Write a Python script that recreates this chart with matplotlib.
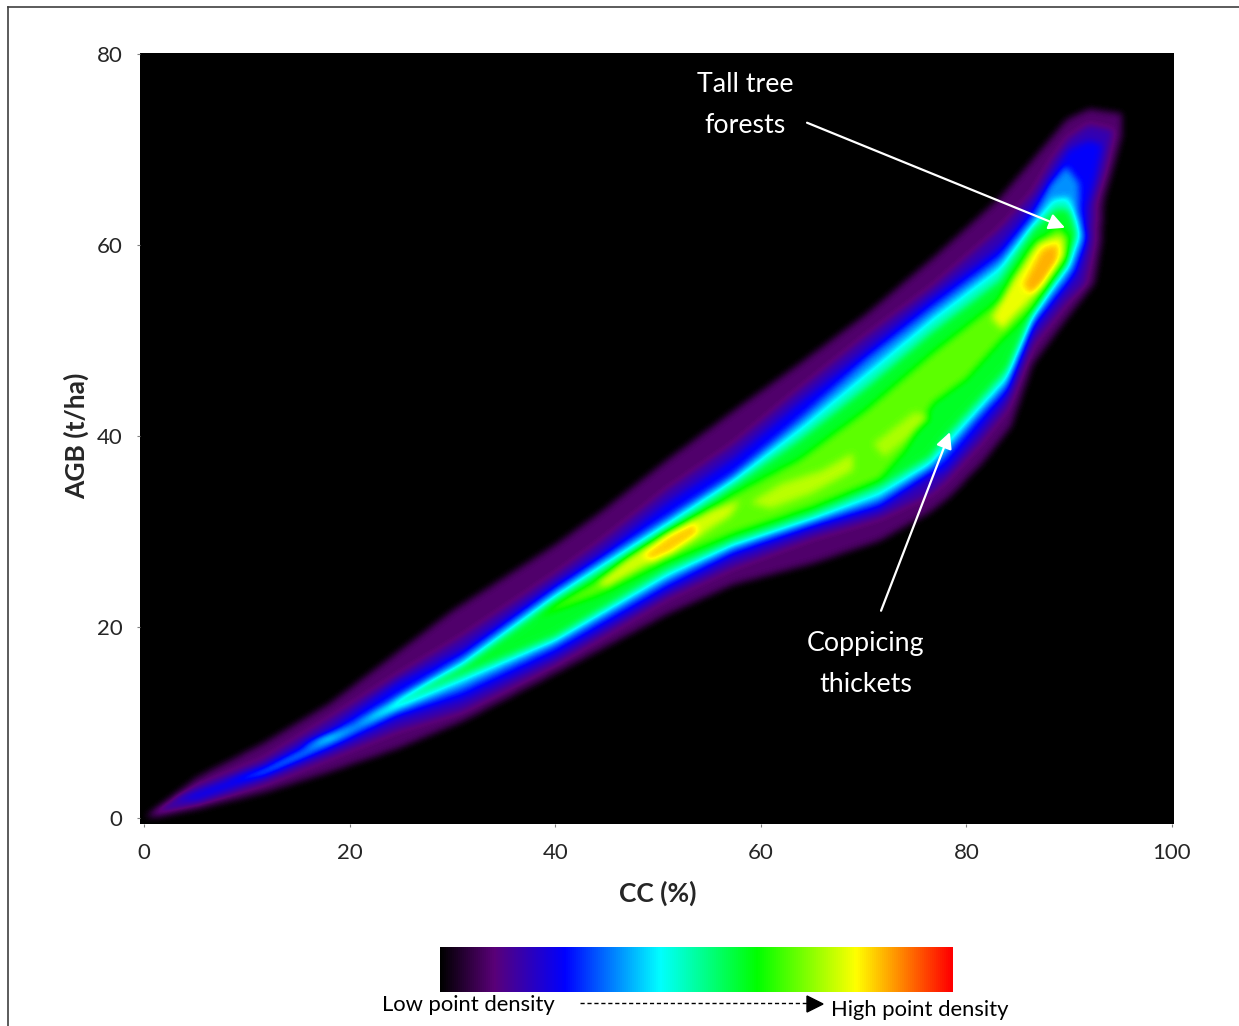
import matplotlib
matplotlib.use("Agg")
import numpy as np
import matplotlib.pyplot as plt
from matplotlib.colors import LinearSegmentedColormap
from matplotlib.lines import Line2D
from matplotlib.path import Path

plt.rcParams["font.family"] = ["Lato", "DejaVu Sans"]

W, H = 1239, 1026

#Axis ticks
x_ticks = [0, 20, 40, 60, 80, 100]
y_ticks = [0, 20, 40, 60, 80]

#Colour scale of the density
scale_pos = [0, 0.105, 0.243, 0.43, 0.62, 0.814, 1]
scale_col = ["#000000", "#5a0078", "#0000ff", "#00ffff", "#00ff00", "#ffff00", "#ff0000"]

#Outlines of the point cloud, (CC, AGB), outer to inner
sparse = [(0, 0), (5.1, 4.2), (11.6, 7.8), (18.1, 12), (24.6, 17.3), (30, 21.7), (40, 28.6), (44.4, 32),
          (50.9, 37.5), (57.3, 42.6), (63.8, 47.6), (70.3, 52.8), (76.8, 58.7), (83.3, 65), (86.5, 69),
          (89.8, 73.2), (92, 74.3), (95.2, 73.8), (95.2, 71.5), (94.3, 68), (93.4, 64.7), (93.2, 60.3),
          (92.5, 56), (89.8, 52.3), (86.5, 47.5), (84.4, 41), (81.7, 37.3), (78.4, 33.6), (76.5, 32),
          (71.6, 29), (65, 26.6), (57.3, 24.4), (50.9, 21.3), (40, 15.1), (31, 10.1), (24.6, 7.2),
          (18.1, 4.8), (11.6, 2.6), (5.1, 0.9), (1.5, 0.1)]
purple = [(0.5, 0.4), (5.1, 3.2), (11.6, 6), (18.1, 10.3), (24.6, 14.8), (31, 18.9), (40, 25.4), (44.4, 28.8),
          (50.9, 34.3), (57.3, 39), (63.8, 44.8), (70.3, 50.4), (76.8, 55.6), (83.3, 61.6), (86.5, 65.4),
          (88.5, 69), (90, 71.2), (92, 72.6), (94.3, 72), (93.5, 68), (92.5, 64.5), (92.3, 60), (91.5, 56),
          (89.8, 54.2), (86.5, 49.7), (84, 43), (81.3, 39.3), (78, 35.4), (76.5, 34), (71.6, 31.5),
          (65, 29.4), (57.3, 26.3), (50.9, 23.1), (40, 16.2), (31, 11.3), (24.6, 9.2), (18.1, 6.4),
          (11.6, 3.6), (5.1, 1.4)]
blue = [(2.5, 1.9), (5.1, 2.6), (11.6, 5.3), (18.1, 9.2), (24.6, 14.1), (31, 17.6), (40, 24.5), (44.4, 27.6),
        (50.9, 33), (57.3, 37.6), (63.8, 43.5), (70.3, 49), (76.8, 54.6), (83.3, 59.8), (86.5, 64),
        (88.5, 67.5), (90, 70), (92, 71), (93.3, 70.5), (92.6, 67), (91.8, 64), (91.6, 60), (90.8, 57),
        (89.8, 55.6), (86.5, 51), (84, 44.3), (81.3, 40.6), (78, 36.4), (76.5, 35.7), (71.6, 32.3),
        (65, 30.2), (57.3, 27.3), (50.9, 23.8), (40, 17), (31, 12.4), (24.6, 10.3), (18.1, 7.1),
        (11.6, 4.3), (5.1, 1.9)]
sky = [(8, 3.8), (11.6, 5), (18.1, 8.5), (24.6, 12.7), (31, 16.9), (40, 23.9), (44.4, 27), (50.9, 31.5),
       (57.3, 36), (63.8, 41.8), (70.3, 48), (76.8, 53.5), (83.3, 58.7), (86.5, 63), (88.3, 66.5),
       (89.8, 68.2), (91, 66.5), (91, 63.5), (91.7, 60.8), (90.5, 57.5), (89.8, 56.3), (86.5, 51.8),
       (84, 45.1), (81.3, 42), (78, 37.8), (76.5, 36.4), (71.6, 33), (65, 30.8), (57.3, 28), (50.9, 24.6),
       (40, 17.9), (31, 13.4), (24.6, 11), (18.1, 7.6), (11.6, 4.5)]
teal = [(15, 7.4), (18.1, 8.2), (24.6, 12.2), (31, 16.2), (40, 23.3), (44.4, 26.4), (50.9, 30.9), (57.3, 35.4),
        (63.8, 40.8), (70.3, 46.6), (76.8, 52.4), (83.3, 57.7), (86.5, 62.2), (88.5, 64.8), (90, 65),
        (90.8, 62.5), (91, 60.8), (90, 57.8), (89.2, 57), (86.5, 52.4), (84, 46), (81.3, 42.8), (78, 38.8),
        (76.5, 37), (71.6, 33.8), (65, 31.2), (57.3, 28.5), (50.9, 25.3), (40, 18.5), (31, 14.3), (24.6, 11.4)]
green = [(24, 12), (31, 15.8), (40, 22.8), (44.4, 25.8), (50.9, 30.2), (57.3, 34.7), (63.8, 39.6), (70.3, 45.1),
         (76.8, 51), (83.3, 56.3), (86.5, 61.6), (88.8, 63.8), (90, 63.7), (90.8, 61.3), (90, 58.6), (89.8, 57.7),
         (86.5, 52.9), (84, 47), (81.3, 43.8), (78, 39.9), (76.5, 37.8), (71.6, 34.7), (65, 31.8), (57.3, 29),
         (50.9, 26), (40, 19), (31, 15)]
lime = [(38, 21), (44.4, 25), (50.9, 29.6), (57.3, 33.8), (63.8, 37.5), (70.3, 42.7), (76.8, 48.7), (83.3, 54.2),
        (86.5, 59.8), (89, 62), (90, 60.8), (89.8, 58.7), (86.5, 53.5), (83.3, 50), (80, 46), (76.8, 43.5),
        (74, 38.5), (71.6, 35.5), (65, 32.6), (57.3, 29.8), (50.9, 27), (44.4, 23.5)]
yellow_low = [(44, 24.6), (47, 27.2), (51, 30), (55, 32.2), (58, 33.2), (57, 31.6), (53, 28.8), (48, 26), (45, 24.2)]
yellow_mid = [(59, 33), (62, 35), (66, 36.4), (69, 38.2), (69, 36.4), (65, 34), (61, 32.4)]
yellow_high = [(71, 39.2), (75, 42.5), (76.5, 42), (74, 39.5), (72, 37.8)]
yellow_top = [(82.5, 52.4), (84.5, 56.4), (87, 60.4), (89.4, 61), (89.6, 59), (87.5, 55.8), (85.5, 53.4), (83.5, 51.2)]
orange_low = [(48.5, 27.5), (51, 29.6), (53.5, 31), (54, 29.8), (51.5, 27.8), (49.5, 26.8)]
orange_top = [(85.5, 55.8), (87.4, 59.6), (89, 60.2), (89, 58.4), (87.5, 55.8), (86.4, 54.8)]

outlines = [sparse, purple, blue, sky, teal, green, lime,
            yellow_low, yellow_mid, yellow_high, yellow_top, orange_low, orange_top]
densities = [0.095, 0.165, 0.24, 0.35, 0.47, 0.59, 0.69, 0.78, 0.76, 0.75, 0.8, 0.85, 0.87]

cmap = LinearSegmentedColormap.from_list("density", list(zip(scale_pos, scale_col)))

fig = plt.figure(figsize=(W / 100, H / 100), dpi=100)
ax = fig.add_axes([140 / W, 1 - 824 / H, 1034 / W, 771 / H], facecolor="black")

xlim = (-0.39, 100.2)
ylim = (-0.63, 80.1)

#Density raster: each outline sets its level, then a small box blur softens the steps
gx, gy = np.meshgrid(np.linspace(xlim[0], xlim[1], 1034), np.linspace(ylim[0], ylim[1], 771))
pts = np.column_stack([gx.ravel(), gy.ravel()])
field = np.zeros(gx.shape)
for outline, d in zip(outlines, densities):
    inside = Path(outline + [outline[0]]).contains_points(pts).reshape(gx.shape)
    field[inside] = d

kernel = np.ones(7) / 7
for _ in range(3):
    field = np.apply_along_axis(lambda r: np.convolve(r, kernel, mode="same"), 0, field)
    field = np.apply_along_axis(lambda r: np.convolve(r, kernel, mode="same"), 1, field)

ax.imshow(field, cmap=cmap, vmin=0, vmax=1, origin="lower", aspect="auto",
          extent=[xlim[0], xlim[1], ylim[0], ylim[1]], interpolation="nearest")

ax.set_xlim(xlim)
ax.set_ylim(ylim)
ax.set_xticks(x_ticks)
ax.set_yticks(y_ticks)
ax.tick_params(length=2.5, width=0.8, color="#808080", labelsize=16, labelcolor="#262626")
ax.tick_params(axis="x", pad=11)
ax.tick_params(axis="y", pad=10)
for s in ax.spines.values():
    s.set_visible(False)

fig.text(658 / W, 1 - 893 / H, "CC (%)", fontsize=19, fontweight="bold", color="#262626", ha="center", va="center")
fig.text(76 / W, 1 - 436 / H, "AGB (t/ha)", fontsize=19, fontweight="bold", color="#262626", rotation=90,
         ha="center", va="center")

#Annotations
ax.text(58.5, 76.8, "Tall tree", color="white", fontsize=19.3, ha="center", va="center")
ax.text(58.5, 72.5, "forests", color="white", fontsize=19.3, ha="center", va="center")
ax.text(70.2, 18.3, "Coppicing", color="white", fontsize=19.3, ha="center", va="center")
ax.text(70.2, 14.0, "thickets", color="white", fontsize=19.3, ha="center", va="center")
arrow = dict(arrowstyle="-|>", color="white", lw=1.6, mutation_scale=24, shrinkA=0, shrinkB=0)
ax.annotate("", xy=(89.6, 61.8), xytext=(64.5, 72.8), arrowprops=arrow)
ax.annotate("", xy=(78.4, 40.4), xytext=(71.7, 21.7), arrowprops=arrow)

#Colour bar
cax = fig.add_axes([440 / W, 1 - 992 / H, 513 / W, 45 / H])
cax.imshow(np.linspace(0, 1, 513)[None, :], cmap=cmap, aspect="auto")
cax.axis("off")
fig.text(468 / W, 1 - 1005 / H, "Low point density", fontsize=15.8, color="black", ha="center", va="center")
fig.text(920 / W, 1 - 1010 / H, "High point density", fontsize=15.8, color="black", ha="center", va="center")
fig.add_artist(Line2D([580 / W, 808 / W], [1 - 1003 / H, 1 - 1003 / H], color="black", lw=1, ls=(0, (3, 2))))
fig.add_artist(plt.Polygon([[807 / W, 1 - 996 / H], [823 / W, 1 - 1004 / H], [807 / W, 1 - 1012 / H]],
                           color="black", transform=fig.transFigure))

#Frame around the figure
fig.add_artist(Line2D([8 / W, 8 / W], [0, 1 - 7 / H], color="#404040", lw=1.2))
fig.add_artist(Line2D([8 / W, 1], [1 - 7 / H, 1 - 7 / H], color="#404040", lw=1.2))

fig.savefig("out.png", dpi=100)
